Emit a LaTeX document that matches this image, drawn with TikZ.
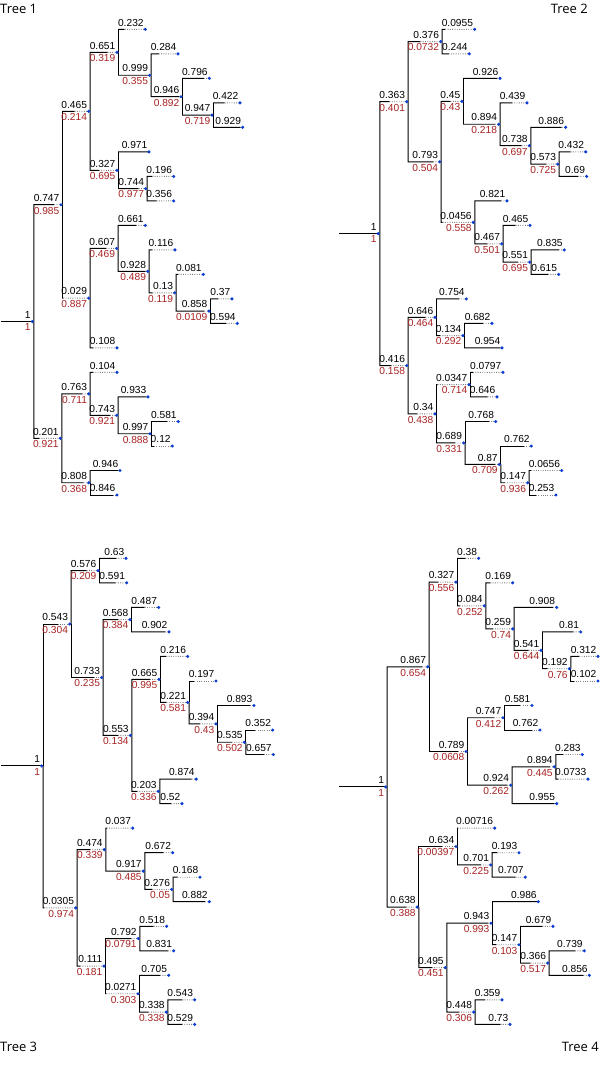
\documentclass[tikz,border=0pt]{standalone}
\usepackage{fontspec}
\setmainfont{Liberation Sans}
\newfontfamily\titlefont{Open Sans}
\usetikzlibrary{calc}
\pgfdeclarelayer{bg}
\pgfsetlayers{bg,main}
\definecolor{lblred}{HTML}{A82323}
\definecolor{dotblue}{HTML}{0A3CD2}
\tikzset{
  x=1pt, y=-1pt,
  dot/.style={circle,fill=dotblue,inner sep=0pt,minimum size=3.4pt},
  sl/.style={draw=black,line width=0.95pt},
  dl/.style={draw=gray,line width=0.9pt,dash pattern=on 0.9pt off 1.4pt},
  bl/.style={anchor=south east,inner sep=0pt,font=\fontsize{10.2}{12}\selectfont},
  rl/.style={anchor=north east,inner sep=0pt,font=\fontsize{10.2}{12}\selectfont,text=lblred},
  ttl/.style={inner sep=0pt,font=\titlefont\fontsize{13}{15}\selectfont},
}
\newcommand\tedge[3]{%
  \coordinate (#2-k) at ($(#1.center |- #2.center)+(1.5,0)$);
  \coordinate (#2-s) at ($(#2-k)!#3!(#2.center)$);
  \begin{pgfonlayer}{bg}
    \draw[sl] ($(#1.center)+(1.5,0)$) -- (#2-k) -- (#2-s);
    \draw[dl] (#2-s) -- (#2.center);
  \end{pgfonlayer}
  \node[bl] (#2-b) at ($(#2.center)+(-1.5,-3)$) {#3};}
\newcommand\tleaf[5]{%
  \node[dot] (#1) at (#3,#4) {};
  \tedge{#2}{#1}{#5}}
\newcommand\tinode[6]{%
  \node[dot] (#1) at (#3,#4) {};
  \tedge{#2}{#1}{#5}
  \node[rl] (#1-r) at ($(#1.center)+(-1.5,2)$) {#6};}
\newcommand\troot[4]{%
  \node[dot] (#1) at (#2,#3) {};
  \coordinate (#1-st) at (#4,#3);
  \begin{pgfonlayer}{bg}\draw[sl] (#1-st) -- (#1.center);\end{pgfonlayer}
  \node[bl] (#1-b) at ($(#1.center)+(-1.5,-3)$) {1};
  \node[rl] (#1-r) at ($(#1.center)+(-1.5,2)$) {1};}
\begin{document}
\begin{tikzpicture}
\useasboundingbox (0,0) rectangle (600,1069);
\node[ttl,anchor=base west] (title1) at (0,13.5) {Tree 1};
\node[ttl,anchor=base east] (title2) at (588,13.5) {Tree 2};
\node[ttl,anchor=base west] (title3) at (0,1051.7) {Tree 3};
\node[ttl,anchor=base east] (title4) at (599,1051.7) {Tree 4};
% ---------- Tree 1
\troot{t1r}{32.3}{321.5}{1}
\tinode{t1a}{t1r}{61}{204.7}{0.747}{0.985}
\tinode{t1b}{t1r}{60.3}{438.3}{0.201}{0.921}
\tinode{t1a1}{t1a}{88.7}{111.3}{0.465}{0.214}
\tinode{t1a2}{t1a}{88.7}{298.15}{0.029}{0.887}
\tinode{t1a11}{t1a1}{117}{52.3}{0.651}{0.319}
\tinode{t1a12}{t1a1}{117}{170.3}{0.327}{0.695}
\tleaf{t1l0}{t1a11}{145.3}{29.3}{0.232}
\tinode{t1a112}{t1a11}{149.7}{75.25}{0.999}{0.355}
\tleaf{t1l1}{t1a112}{178}{53.8}{0.284}
\tinode{t1n}{t1a112}{181}{96.7}{0.946}{0.892}
\tleaf{t1l2}{t1n}{209.3}{78.3}{0.796}
\tinode{t1m}{t1n}{212}{115.05}{0.947}{0.719}
\tleaf{t1l3}{t1m}{240}{102.8}{0.422}
\tleaf{t1l4}{t1m}{242.7}{127.3}{0.929}
\tleaf{t1l5}{t1a12}{149}{151.9}{0.971}
\tinode{t1p}{t1a12}{145.7}{188.65}{0.744}{0.977}
\tleaf{t1l6}{t1p}{173.7}{176.4}{0.196}
\tleaf{t1l7}{t1p}{173.7}{200.9}{0.356}
\tinode{t1q}{t1a2}{116.7}{248.4}{0.607}{0.469}
\tleaf{t1l13}{t1a2}{117}{347.9}{0.108}
\tleaf{t1l8}{t1q}{145.3}{225.4}{0.661}
\tinode{t1rr}{t1q}{147.7}{271.35}{0.928}{0.489}
\tleaf{t1l9}{t1rr}{175}{249.9}{0.116}
\tinode{t1ss}{t1rr}{174.7}{292.8}{0.13}{0.119}
\tleaf{t1l10}{t1ss}{203.3}{274.4}{0.081}
\tinode{t1t}{t1ss}{209}{311.15}{0.858}{0.0109}
\tleaf{t1l11}{t1t}{232}{298.9}{0.37}
\tleaf{t1l12}{t1t}{237.3}{323.4}{0.594}
\tinode{t1u}{t1b}{88.7}{393.85}{0.763}{0.711}
\tinode{t1v}{t1b}{88.7}{482.75}{0.808}{0.368}
\tleaf{t1l14}{t1u}{117}{372.4}{0.104}
\tinode{t1w}{t1u}{116.7}{415.3}{0.743}{0.921}
\tleaf{t1l15}{t1w}{148}{396.9}{0.933}
\tinode{t1x}{t1w}{150}{433.75}{0.997}{0.888}
\tleaf{t1l16}{t1x}{178.3}{421.5}{0.581}
\tleaf{t1l17}{t1x}{172.3}{446}{0.12}
\tleaf{t1l18}{t1v}{120}{470.5}{0.946}
\tleaf{t1l19}{t1v}{117}{495}{0.846}
% ---------- Tree 2
\troot{t2r}{378.3}{233.6}{339.3}
\tinode{t2a}{t2r}{406.7}{101.7}{0.363}{0.401}
\tinode{t2b}{t2r}{406.7}{365.55}{0.416}{0.158}
\tinode{t2a1}{t2a}{440.7}{41.55}{0.376}{0.0732}
\tinode{t2a2}{t2a}{439.7}{161.8}{0.793}{0.504}
\tleaf{t2l0}{t2a1}{474.7}{29.3}{0.0955}
\tleaf{t2l1}{t2a1}{469.3}{53.8}{0.244}
\tinode{t2c}{t2a2}{462}{101.3}{0.45}{0.43}
\tinode{t2d}{t2a2}{473.3}{222.35}{0.0456}{0.558}
\tleaf{t2l2}{t2c}{500}{78.3}{0.926}
\tinode{t2e}{t2c}{498.7}{124.25}{0.894}{0.218}
\tleaf{t2l3}{t2e}{527}{102.8}{0.439}
\tinode{t2f}{t2e}{529.3}{145.7}{0.738}{0.697}
\tleaf{t2l4}{t2f}{565.7}{127.3}{0.886}
\tinode{t2g}{t2f}{557.7}{164.15}{0.573}{0.725}
\tleaf{t2l5}{t2g}{585.7}{151.9}{0.432}
\tleaf{t2l6}{t2g}{586.7}{176.4}{0.69}
\tleaf{t2l7}{t2d}{507}{200.9}{0.821}
\tinode{t2h}{t2d}{501.7}{243.8}{0.467}{0.501}
\tleaf{t2l8}{t2h}{530}{225.4}{0.465}
\tinode{t2i}{t2h}{529.7}{262.15}{0.551}{0.695}
\tleaf{t2l9}{t2i}{564.3}{249.9}{0.835}
\tleaf{t2l10}{t2i}{558.7}{274.4}{0.615}
\tinode{t2j}{t2b}{435}{317.3}{0.646}{0.464}
\tinode{t2k}{t2b}{435}{413.8}{0.34}{0.438}
\tleaf{t2l11}{t2j}{466.3}{298.9}{0.754}
\tinode{t2ll}{t2j}{463}{335.65}{0.134}{0.292}
\tleaf{t2l12}{t2ll}{492}{323.4}{0.682}
\tleaf{t2l13}{t2ll}{502}{347.9}{0.954}
\tinode{t2m}{t2k}{469}{384.65}{0.0347}{0.714}
\tinode{t2n}{t2k}{463.7}{442.95}{0.689}{0.331}
\tleaf{t2l14}{t2m}{503}{372.4}{0.0797}
\tleaf{t2l15}{t2m}{497}{396.9}{0.646}
\tleaf{t2l16}{t2n}{495.7}{421.5}{0.768}
\tinode{t2o}{t2n}{499.3}{464.4}{0.87}{0.709}
\tleaf{t2l17}{t2o}{531.3}{446}{0.762}
\tinode{t2p}{t2o}{527.7}{482.75}{0.147}{0.936}
\tleaf{t2l18}{t2p}{561.7}{470.5}{0.0656}
\tleaf{t2l19}{t2p}{556}{495}{0.253}
% ---------- Tree 3
\troot{t3r}{41.7}{765.9}{1}
\tinode{t3a}{t3r}{69.7}{624}{0.543}{0.304}
\tinode{t3b}{t3r}{75.7}{907.85}{0.0305}{0.974}
\tinode{t3a1}{t3a}{98}{570.55}{0.576}{0.209}
\tinode{t3a2}{t3a}{101.7}{677.5}{0.733}{0.235}
\tleaf{t3l0}{t3a1}{126}{558.3}{0.63}
\tleaf{t3l1}{t3a1}{126.7}{582.8}{0.591}
\tinode{t3c}{t3a2}{130}{619.65}{0.568}{0.384}
\tinode{t3d}{t3a2}{130.3}{735.4}{0.553}{0.134}
\tleaf{t3l2}{t3c}{158.7}{607.4}{0.487}
\tleaf{t3l3}{t3c}{169}{631.9}{0.902}
\tinode{t3e}{t3d}{159}{679.4}{0.665}{0.995}
\tinode{t3f}{t3d}{158.3}{791.35}{0.203}{0.336}
\tleaf{t3l4}{t3e}{187.7}{656.4}{0.216}
\tinode{t3g}{t3e}{187.7}{702.45}{0.221}{0.581}
\tleaf{t3l5}{t3g}{216}{681}{0.197}
\tinode{t3h}{t3g}{216}{723.9}{0.394}{0.43}
\tleaf{t3l6}{t3h}{254}{705.5}{0.893}
\tinode{t3i}{t3h}{244.3}{742.25}{0.535}{0.502}
\tleaf{t3l7}{t3i}{272.7}{730}{0.352}
\tleaf{t3l8}{t3i}{273.3}{754.5}{0.657}
\tleaf{t3l9}{t3f}{196.3}{779.1}{0.874}
\tleaf{t3l10}{t3f}{182}{803.6}{0.52}
\tinode{t3j}{t3b}{104.3}{849.6}{0.474}{0.339}
\tinode{t3k}{t3b}{104}{966.1}{0.111}{0.181}
\tleaf{t3l11}{t3j}{132.7}{828.1}{0.037}
\tinode{t3ll}{t3j}{143.3}{871.1}{0.917}{0.485}
\tleaf{t3l12}{t3ll}{172.7}{852.7}{0.672}
\tinode{t3m}{t3ll}{171.7}{889.45}{0.276}{0.05}
\tleaf{t3l13}{t3m}{200}{877.2}{0.168}
\tleaf{t3l14}{t3m}{209.3}{901.7}{0.882}
\tinode{t3n}{t3k}{138.3}{938.55}{0.792}{0.0791}
\tinode{t3o}{t3k}{138}{993.7}{0.0271}{0.303}
\tleaf{t3l15}{t3n}{166.7}{926.3}{0.518}
\tleaf{t3l16}{t3n}{173.7}{950.8}{0.831}
\tleaf{t3l17}{t3o}{168.7}{975.3}{0.705}
\tinode{t3p}{t3o}{166.3}{1012.1}{0.338}{0.338}
\tleaf{t3l18}{t3p}{194.7}{999.8}{0.543}
\tleaf{t3l19}{t3p}{194.7}{1024.4}{0.529}
% ---------- Tree 4
\troot{t4r}{385.7}{786.95}{339.3}
\tinode{t4a}{t4r}{427.7}{666.8}{0.867}{0.654}
\tinode{t4b}{t4r}{417.3}{907.1}{0.638}{0.388}
\tinode{t4a1}{t4a}{456}{582.05}{0.327}{0.556}
\tinode{t4a2}{t4a}{466}{751.5}{0.789}{0.0608}
\tleaf{t4l0}{t4a1}{478.7}{558.3}{0.38}
\tinode{t4c}{t4a1}{484.3}{605.8}{0.084}{0.252}
\tleaf{t4l1}{t4c}{512.7}{582.8}{0.169}
\tinode{t4d}{t4c}{512.7}{628.85}{0.259}{0.74}
\tleaf{t4l2}{t4d}{556.7}{607.4}{0.908}
\tinode{t4e}{t4d}{541}{650.3}{0.541}{0.644}
\tleaf{t4l3}{t4e}{580.7}{631.9}{0.81}
\tinode{t4f}{t4e}{569.3}{668.7}{0.192}{0.76}
\tleaf{t4l4}{t4f}{598}{656.4}{0.312}
\tleaf{t4l5}{t4f}{598}{681}{0.102}
\tinode{t4g}{t4a2}{503}{717.75}{0.747}{0.412}
\tinode{t4h}{t4a2}{510.7}{785.2}{0.924}{0.262}
\tleaf{t4l6}{t4g}{532}{705.5}{0.581}
\tleaf{t4l7}{t4g}{540}{730}{0.762}
\tinode{t4i}{t4h}{554.3}{766.8}{0.894}{0.445}
\tleaf{t4l10}{t4h}{556.7}{803.6}{0.955}
\tleaf{t4l8}{t4i}{582.3}{754.5}{0.283}
\tleaf{t4l9}{t4i}{588}{779.1}{0.0733}
\tinode{t4j}{t4b}{456}{846.5}{0.634}{0.00397}
\tinode{t4k}{t4b}{445.3}{967.65}{0.495}{0.451}
\tleaf{t4l11}{t4j}{494.7}{828.1}{0.00716}
\tinode{t4ll}{t4j}{490.7}{864.95}{0.701}{0.225}
\tleaf{t4l12}{t4ll}{519}{852.7}{0.193}
\tleaf{t4l13}{t4ll}{525.3}{877.2}{0.707}
\tinode{t4m}{t4k}{491}{923.2}{0.943}{0.993}
\tinode{t4n}{t4k}{473.7}{1012.1}{0.448}{0.306}
\tleaf{t4l14}{t4m}{538.3}{901.7}{0.986}
\tinode{t4o}{t4m}{519}{944.7}{0.147}{0.103}
\tleaf{t4l15}{t4o}{553}{926.3}{0.679}
\tinode{t4p}{t4o}{547.7}{963.05}{0.366}{0.517}
\tleaf{t4l16}{t4p}{584.3}{950.8}{0.739}
\tleaf{t4l17}{t4p}{589.3}{975.3}{0.856}
\tleaf{t4l18}{t4n}{502}{999.8}{0.359}
\tleaf{t4l19}{t4n}{510}{1024.4}{0.73}
\end{tikzpicture}
\end{document}
